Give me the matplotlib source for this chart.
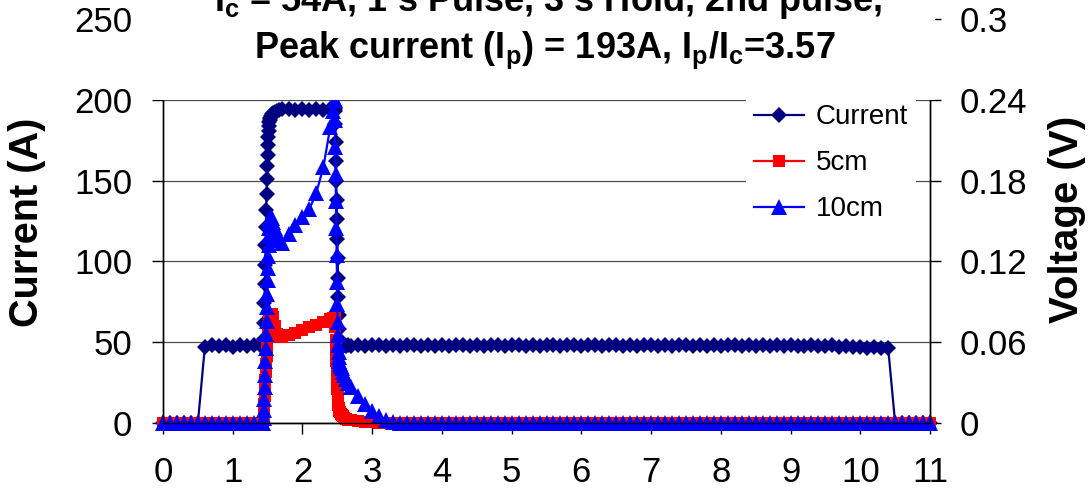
import matplotlib
matplotlib.use("Agg")
import matplotlib.pyplot as plt
from matplotlib.patches import Rectangle

plt.rcParams.update({
    "font.family": "Liberation Sans",
    "mathtext.fontset": "custom",
    "mathtext.rm": "Liberation Sans:bold",
    "mathtext.it": "Liberation Sans:bold",
    "mathtext.bf": "Liberation Sans:bold",
    "mathtext.default": "rm",
})

# data (time in s, current in A, voltage in V)

t_pre = [0.0, 0.1, 0.2, 0.3, 0.4, 0.5, 0.6, 0.7, 0.8, 0.9, 1.0, 1.1, 1.2, 1.3, 1.4]
t_rise = [1.44, 1.445, 1.45, 1.455, 1.46, 1.465, 1.47, 1.475, 1.48, 1.485,
          1.49, 1.495, 1.5, 1.505, 1.51, 1.515, 1.52, 1.525, 1.53,
          1.54, 1.55, 1.56, 1.58, 1.6, 1.63, 1.66, 1.7]
t_top = [1.8, 1.9, 2.0, 2.1, 2.2, 2.3, 2.4, 2.44]
t_fall = [2.46, 2.465, 2.47, 2.475, 2.48, 2.485, 2.49, 2.495, 2.5, 2.505,
          2.51, 2.515, 2.52, 2.525, 2.53, 2.54, 2.55, 2.56, 2.58, 2.6,
          2.63, 2.66, 2.7]
t_post = [2.8, 2.9, 3.0, 3.1, 3.2, 3.3, 3.4, 3.5, 3.6, 3.7,
          3.8, 3.9, 4.0, 4.1, 4.2, 4.3, 4.4, 4.5, 4.6, 4.7,
          4.8, 4.9, 5.0, 5.1, 5.2, 5.3, 5.4, 5.5, 5.6, 5.7,
          5.8, 5.9, 6.0, 6.1, 6.2, 6.3, 6.4, 6.5, 6.6, 6.7,
          6.8, 6.9, 7.0, 7.1, 7.2, 7.3, 7.4, 7.5, 7.6, 7.7,
          7.8, 7.9, 8.0, 8.1, 8.2, 8.3, 8.4, 8.5, 8.6, 8.7,
          8.8, 8.9, 9.0, 9.1, 9.2, 9.3, 9.4, 9.5, 9.6, 9.7,
          9.8, 9.9, 10.0, 10.1, 10.2, 10.3, 10.4,
          10.5, 10.6, 10.7, 10.8, 10.9, 11.0]

cur_pre = [0, 0, 0, 0, 0, 0, 47, 48, 47.5, 48, 47, 48, 47.5, 48, 47.5]
cur_rise = [47.5, 52, 62, 74, 86, 98, 110, 121, 132, 142,
            151, 159, 166, 172, 177, 181, 184, 186, 187.5,
            189, 190, 191, 192, 192.5, 193, 193.5, 194]
cur_top = [194, 193.5, 194, 193.5, 194, 193.5, 194, 194]
cur_fall = [194, 193, 185, 174, 162, 150, 138, 126, 114, 102,
            90, 78, 67, 58, 52, 49, 48, 48, 47.5, 48,
            47.5, 48, 47.5]
cur_post = [48, 47.5, 48, 48, 47.5, 48, 47.5, 48, 48, 47.5,
            48, 47.5, 48, 47.5, 48, 48, 47.5, 48, 47.5, 48,
            48, 47.5, 48, 48, 47.5, 48, 47.5, 48, 48, 47.5,
            48, 48, 47.5, 48, 48, 47.5, 48, 48, 47.5, 48,
            47.5, 48, 48, 47.5, 48, 47.5, 48, 48, 47.5, 48,
            47.5, 48, 47.5, 48, 48, 47.5, 48, 47.5, 48, 47.5,
            48, 47.5, 48, 47.5, 47.5, 48, 47.5, 47.5, 48, 47,
            47.5, 47, 47, 46.5, 47, 46.5, 46.5,
            0, 0, 0, 0, 0, 0]

v5_pre = [0, 0, 0, 0, 0, 0, 0, 0, 0, 0, 0, 0, 0, 0, 0]
v5_rise = [0, 0.003, 0.008, 0.014, 0.020, 0.026, 0.032, 0.038, 0.044, 0.050,
           0.055, 0.060, 0.064, 0.068, 0.071, 0.074, 0.076, 0.078, 0.079,
           0.080, 0.081, 0.081, 0.079, 0.072, 0.066, 0.064, 0.064]
v5_top = [0.065, 0.067, 0.069, 0.071, 0.073, 0.075, 0.077, 0.078]
v5_fall = [0.079, 0.078, 0.071, 0.062, 0.054, 0.046, 0.038, 0.031, 0.025, 0.020,
           0.016, 0.013, 0.011, 0.010, 0.009, 0.008, 0.007, 0.006, 0.005, 0.004,
           0.003, 0.0025, 0.002]
v5_post = [0.0015, 0.001, 0.0005, 0, 0, 0, 0, 0, 0, 0,
           0, 0, 0, 0, 0, 0, 0, 0, 0, 0,
           0, 0, 0, 0, 0, 0, 0, 0, 0, 0,
           0, 0, 0, 0, 0, 0, 0, 0, 0, 0,
           0, 0, 0, 0, 0, 0, 0, 0, 0, 0,
           0, 0, 0, 0, 0, 0, 0, 0, 0, 0,
           0, 0, 0, 0, 0, 0, 0, 0, 0, 0,
           0, 0, 0, 0, 0, 0, 0,
           0, 0, 0, 0, 0, 0]

v10_pre = [0, 0, 0, 0, 0, 0, 0, 0, 0, 0, 0, 0, 0, 0, 0]
v10_rise = [0, 0.004, 0.010, 0.018, 0.027, 0.036, 0.046, 0.056, 0.066, 0.076,
            0.086, 0.096, 0.106, 0.115, 0.124, 0.132, 0.139, 0.145, 0.149,
            0.152, 0.153, 0.152, 0.149, 0.145, 0.140, 0.136, 0.134]
v10_top = [0.140, 0.147, 0.153, 0.159, 0.171, 0.190, 0.220, 0.232]
v10_fall = [0.240, 0.225, 0.205, 0.185, 0.165, 0.145, 0.125, 0.105, 0.088, 0.075,
            0.065, 0.058, 0.053, 0.049, 0.046, 0.044, 0.042, 0.041, 0.038, 0.036,
            0.033, 0.030, 0.027]
v10_post = [0.020, 0.014, 0.009, 0.005, 0.002, 0.0005, 0, 0, 0, 0,
            0, 0, 0, 0, 0, 0, 0, 0, 0, 0,
            0, 0, 0, 0, 0, 0, 0, 0, 0, 0,
            0, 0, 0, 0, 0, 0, 0, 0, 0, 0,
            0, 0, 0, 0, 0, 0, 0, 0, 0, 0,
            0, 0, 0, 0, 0, 0, 0, 0, 0, 0,
            0, 0, 0, 0, 0, 0, 0, 0, 0, 0,
            0, 0, 0, 0, 0, 0, 0,
            0, 0, 0, 0, 0, 0]

time_s = t_pre + t_rise + t_top + t_fall + t_post
current_a = cur_pre + cur_rise + cur_top + cur_fall + cur_post
volt_5cm = v5_pre + v5_rise + v5_top + v5_fall + v5_post
volt_10cm = v10_pre + v10_rise + v10_top + v10_fall + v10_post

x_ticks = [0, 1, 2, 3, 4, 5, 6, 7, 8, 9, 10, 11]
left_ticks = [0, 50, 100, 150, 200, 250]
right_ticks = [0, 0.06, 0.12, 0.18, 0.24, 0.3]
right_ticklabels = ["0", "0.06", "0.12", "0.18", "0.24", "0.3"]

title_line1 = r"I$_{c}$ = 54A, 1 s Pulse, 3 s Hold, 2nd pulse,"
title_line2 = r"Peak current (I$_{p}$) = 193A, I$_{p}$/I$_{c}$=3.57"

# figure

W, H = 1092, 492
fig = plt.figure(figsize=(W / 100, H / 100), dpi=100)

ax = fig.add_axes([163 / W, (H - 423) / H, (930 - 163) / W, (423 - 19) / H])
ax2 = ax.twinx()

ax.set_xlim(0, 11)
ax.set_ylim(0, 250)
ax2.set_ylim(0, 0.3)

ax.yaxis.grid(True, color="0.3", linewidth=0.9)
ax.set_axisbelow(True)

# markers hang over the axis edges like in the spreadsheet chart
l_cur, = ax.plot(time_s, current_a, color="#000080", linewidth=1.6,
                 marker="D", markersize=8.5, markeredgewidth=0, label="Current",
                 clip_on=False)
l_5, = ax2.plot(time_s, volt_5cm, color="#FF0000", linewidth=1.6,
                marker="s", markersize=8.5, markeredgewidth=0, label="5cm",
                clip_on=False)
l_10, = ax2.plot(time_s, volt_10cm, color="#0000FF", linewidth=1.6,
                 marker="^", markersize=11, markeredgewidth=0, label="10cm",
                 clip_on=False)

ax.set_xticks(x_ticks)
ax.set_yticks(left_ticks)
ax2.set_yticks(right_ticks)
ax2.set_yticklabels(right_ticklabels)

ax.tick_params(axis="y", direction="out", length=8, width=1, labelsize=25, pad=14)
ax.tick_params(axis="x", direction="out", length=8, width=1, labelsize=25, pad=16)
ax2.tick_params(axis="y", direction="out", length=8, width=1, labelsize=25, pad=13)

for a in (ax, ax2):
    for s in a.spines.values():
        s.set_linewidth(1.0)
        s.set_color("black")

fig.text(27 / W, 1 - 222 / H, "Current (A)", rotation=90, fontsize=28.5,
         fontweight="bold", ha="center", va="center")
fig.text(1067 / W, 1 - 219 / H, "Voltage (V)", rotation=90, fontsize=29,
         fontweight="bold", ha="center", va="center")

leg = ax2.legend(handles=[l_cur, l_5, l_10], loc="upper left",
                 bbox_to_anchor=(746 / W, 1 - 96 / H), bbox_transform=fig.transFigure,
                 frameon=True, fancybox=False, framealpha=1, facecolor="white",
                 edgecolor="none", fontsize=20, handlelength=1.8, handletextpad=0.4,
                 labelspacing=0.72, borderpad=0.3, borderaxespad=0)

# white title box that hides the top of the plot area
box = Rectangle((145 / W, 1 - 99.5 / H), (935 - 145) / W, 99.5 / H,
                transform=fig.transFigure, facecolor="white", edgecolor="none", zorder=5)
fig.add_artist(box)

fig.text(548 / W, 1 - 11 / H, title_line1, fontsize=26, fontweight="bold",
         ha="center", va="baseline", zorder=6)
fig.text(545 / W, 1 - 58 / H, title_line2, fontsize=26, fontweight="bold",
         ha="center", va="baseline", zorder=6)

fig.savefig("out.png", dpi=100)
